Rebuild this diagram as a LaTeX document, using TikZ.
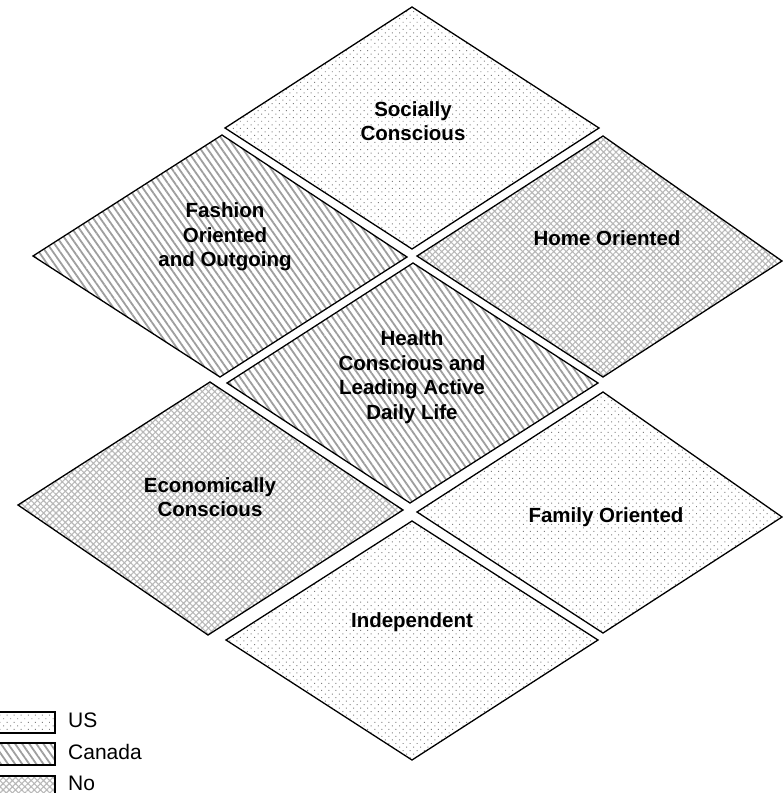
\documentclass[tikz,border=0pt]{standalone}
\usepackage{fontspec}
\setmainfont{Liberation Sans}
\usetikzlibrary{patterns.meta}

\tikzset{
	cell/.style={draw=black,line width=1.3pt,line join=miter},
	usfill/.style={cell,pattern={Dots[angle=45,distance=5pt,radius=0.7pt]},pattern color=black!50},
	cafill/.style={cell,pattern={Lines[angle=-55,distance=5.8pt,line width=1.8pt]},pattern color=black!38},
	nofill/.style={cell,pattern={Hatch[angle=45,distance=4.4pt,line width=1.1pt]},pattern color=black!28},
	lbl/.style={font=\fontsize{20.5}{24.5}\selectfont\bfseries,align=center},
	key/.style={font=\fontsize{21}{25}\selectfont,anchor=base west,inner sep=0pt}
}

\begin{document}
\begin{tikzpicture}[x=1pt,y=-1pt]
	\useasboundingbox (0,0) rectangle (783,793);

	\draw[usfill] (412,7) -- (599,128) -- (412,249) -- (225,128) -- cycle;
	\draw[cafill] (222,135) -- (407,257) -- (220,377) -- (33,256) -- cycle;
	\draw[nofill] (603,136) -- (782,261) -- (603,377) -- (417,256) -- cycle;
	\draw[cafill] (413,263) -- (598,383) -- (410,503) -- (227,383) -- cycle;
	\draw[nofill] (210,382) -- (403,510) -- (208,635) -- (18,505) -- cycle;
	\draw[usfill] (603,392) -- (782,517) -- (603,633) -- (417,512) -- cycle;
	\draw[usfill] (412,521) -- (598,640) -- (412,760) -- (226,640) -- cycle;

	\node[lbl] (socially) at (413,121) {Socially\\Conscious};
	\node[lbl] (fashion)  at (225,237) {Fashion\\Oriented\\and Outgoing};
	\node[lbl] (home)     at (607,238) {Home Oriented};
	\node[lbl] (health)   at (412,377) {Health\\Conscious and\\Leading Active\\Daily Life};
	\node[lbl] (econ)     at (210,497) {Economically\\Conscious};
	\node[lbl] (family)   at (606,517) {Family Oriented};
	\node[lbl] (indep)    at (412,622) {Independent};

	\draw[usfill] (-5,712) rectangle (55,733);
	\draw[cafill] (-5,743) rectangle (55,765);
	\draw[nofill] (-5,776) rectangle (55,797);
	\node[key] (us)     at (68,727) {US};
	\node[key] (canada) at (68,759) {Canada};
	\node[key] (no)     at (68,790) {No};
\end{tikzpicture}
\end{document}
